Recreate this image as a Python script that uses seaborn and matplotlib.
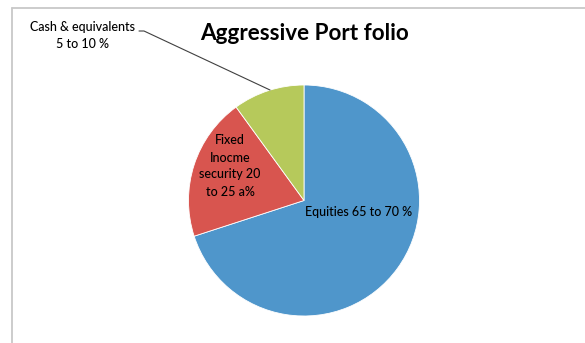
import matplotlib
matplotlib.use("Agg")
import matplotlib.pyplot as plt
import seaborn as sns

# Portfolio allocation (upper end of each range)
categories = ["Equities", "Fixed Income", "Cash & equivalents"]
shares = [70, 20, 10]
slice_labels = ["Equities 65 to 70 %", "Fixed\nInocme\nsecurity 20\nto 25 a%", "Cash & equivalents\n5 to 10 %"]
title = "Aggressive Port folio"

sns.set_theme(style="white")
plt.rcParams["font.family"] = ["Lato", "DejaVu Sans"]

colors = ["#4f96cb", "#d8554f", "#b6c95b"]

W, H = 585, 343
fig = plt.figure(figsize=(W / 100, H / 100), dpi=100)
ax = fig.add_axes([0, 0, 1, 1])

# chart frame (top and left edges visible)
ax.plot([12, W], [H - 8, H - 8], color="#c8c8c8", lw=1.3)
ax.plot([12, 12], [0, H - 8], color="#c8c8c8", lw=1.3)

cx, cy, r = 304, H - 200.5, 115.5
wedges, _ = ax.pie(shares, colors=colors, startangle=90, counterclock=False,
                   center=(cx, cy), radius=r, frame=True,
                   wedgeprops=dict(linewidth=0.6, edgecolor="white"))
ax.set_xlim(0, W)
ax.set_ylim(0, H)
ax.set_aspect("equal")
ax.axis("off")

ax.text(305, H - 34, title, ha="center", va="center", fontsize=16.2,
        fontweight="bold", color="black")

lab_kw = dict(ha="center", va="center", fontsize=9.0, color="black",
              linespacing=1.5, fontweight="medium")
ax.text(359, H - 212, slice_labels[0], **lab_kw)
ax.text(230, H - 166, slice_labels[1], **lab_kw)
ax.text(83, H - 35.5, slice_labels[2], **lab_kw)

# leader line for the small slice
ax.plot([139, 144, 270], [H - 31, H - 31, H - 90], color="#404040", lw=0.8)

fig.savefig("out.png", dpi=100)
